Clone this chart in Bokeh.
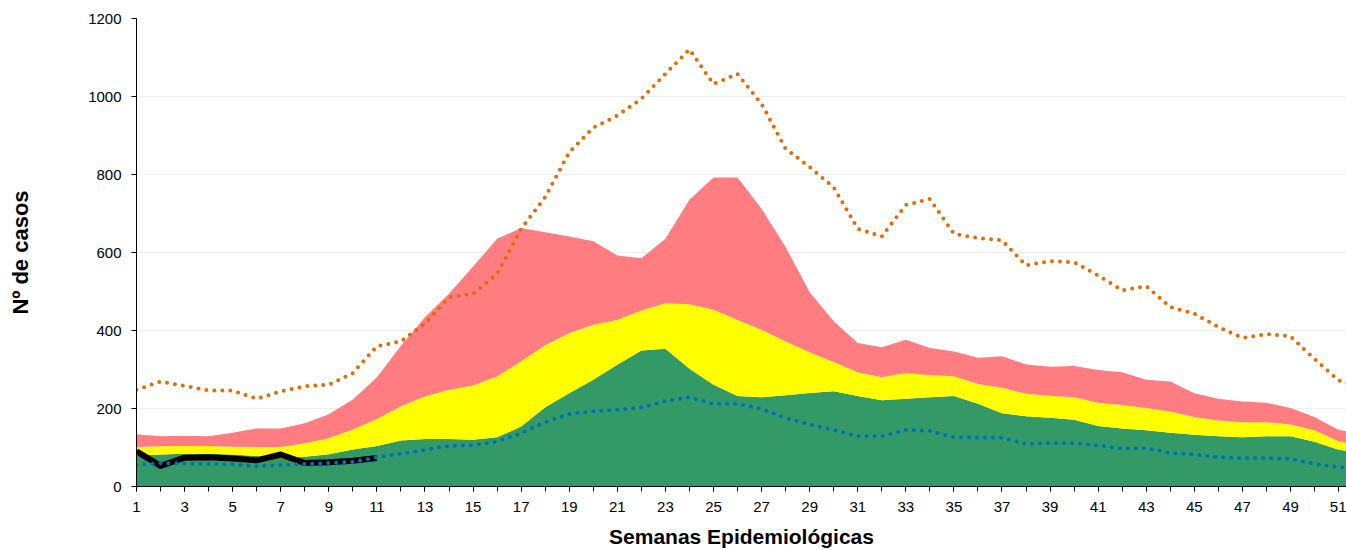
from bokeh.plotting import figure
from bokeh.models import Range1d, FixedTicker, ColumnDataSource
from bokeh.embed import file_html
from bokeh.resources import INLINE

weeks = list(range(1, 53))

# Upper bound of each endemic-channel zone
green_top = [80, 82, 84, 84, 82, 78, 74, 76, 83, 95, 104, 118, 122, 122, 120, 126, 154, 203, 239, 274,
             312, 349, 353, 302, 261, 232, 229, 234, 240, 244, 232, 221, 225, 229, 232, 212, 188, 180, 176, 171,
             155, 149, 144, 138, 133, 129, 126, 129, 129, 115, 94, 86]
yellow_top = [101, 103, 104, 104, 102, 101, 101, 111, 124, 146, 173, 206, 231, 248, 259, 282, 321, 362, 393, 415,
              427, 451, 470, 467, 453, 427, 402, 372, 344, 319, 293, 280, 291, 285, 283, 263, 253, 238, 233, 229,
              215, 209, 201, 192, 178, 169, 165, 165, 159, 144, 116, 106]
red_top = [134, 129, 130, 129, 138, 149, 149, 162, 185, 223, 280, 361, 434, 494, 564, 635, 663, 652, 641, 629,
           592, 585, 635, 735, 792, 792, 712, 614, 498, 424, 368, 357, 376, 355, 346, 330, 334, 313, 307, 309,
           299, 293, 274, 269, 239, 225, 218, 215, 201, 178, 145, 136]
upper_line = [248, 269, 258, 246, 246, 225, 244, 257, 261, 291, 360, 372, 418, 485, 494, 545, 661, 742, 857, 920,
              951, 994, 1058, 1121, 1032, 1058, 981, 866, 819, 767, 661, 641, 722, 737, 648, 637, 631, 567, 578, 575,
              541, 503, 514, 460, 443, 409, 381, 391, 385, 327, 272, 255]
lower_line = [55, 60, 59, 58, 57, 52, 55, 58, 60, 63, 75, 84, 94, 104, 106, 115, 137, 165, 186, 193,
              197, 203, 219, 229, 212, 212, 199, 176, 159, 145, 129, 129, 145, 143, 126, 125, 125, 109, 111, 111,
              105, 97, 98, 86, 82, 75, 73, 73, 71, 58, 50, 45]
current_weeks = list(range(1, 12))
current_cases = [90, 53, 74, 75, 72, 67, 82, 60, 62, 66, 73]

x_ticks = list(range(1, 52, 2))
y_ticks = list(range(0, 1201, 200))

src = ColumnDataSource(dict(w=weeks, zero=[0] * len(weeks), g=green_top, y=yellow_top, r=red_top,
                            up=upper_line, lo=lower_line))

p = figure(width=1346, height=550, output_backend="svg", toolbar_location=None,
           x_range=Range1d(1, 51.33), y_range=Range1d(0, 1200),
           min_border_left=136, min_border_right=0, min_border_top=18, min_border_bottom=64)

p.varea(x="w", y1="zero", y2="g", source=src, fill_color="#339966")
p.varea(x="w", y1="g", y2="y", source=src, fill_color="#FFFF00")
p.varea(x="w", y1="y", y2="r", source=src, fill_color="#FF7C80")

p.line(current_weeks, current_cases, line_color="black", line_width=6, line_join="round")
p.line(x="w", y="up", source=src, line_color="#E36C09", line_width=4, line_dash="0 8", line_cap="round")
p.line(x="w", y="lo", source=src, line_color="#0070C0", line_width=4, line_dash="0 8", line_cap="round")

p.outline_line_color = None
p.xgrid.grid_line_color = None
p.ygrid.grid_line_color = "#EFEFEF"
p.ygrid.grid_line_width = 1

p.xaxis.ticker = FixedTicker(ticks=x_ticks, minor_ticks=weeks)
p.yaxis.ticker = FixedTicker(ticks=y_ticks, minor_ticks=[])

for ax in (p.xaxis, p.yaxis):
    ax.axis_line_color = "black"
    ax.axis_line_width = 1
    ax.major_tick_line_color = "black"
    ax.minor_tick_line_color = "black"
    ax.major_tick_in = 0
    ax.major_tick_out = 5
    ax.minor_tick_in = 0
    ax.minor_tick_out = 5
    ax.major_label_text_font = "Liberation Sans"
    ax.major_label_text_font_size = "15px"
    ax.major_label_text_color = "black"
    ax.axis_label_text_font = "Liberation Sans"
    ax.axis_label_text_font_style = "bold"
    ax.axis_label_text_color = "black"

p.xaxis.axis_label_text_font_size = "21px"
p.yaxis.axis_label_text_font_size = "22px"
p.yaxis.minor_tick_out = 0
p.yaxis.major_label_standoff = 10
p.xaxis.major_label_standoff = 10
p.xaxis.axis_label = "Semanas Epidemiológicas"
p.yaxis.axis_label = "Nº de casos"
p.xaxis.axis_label_standoff = 10
p.yaxis.axis_label_standoff = 52

open("out.html", "w").write(file_html(p, INLINE))
